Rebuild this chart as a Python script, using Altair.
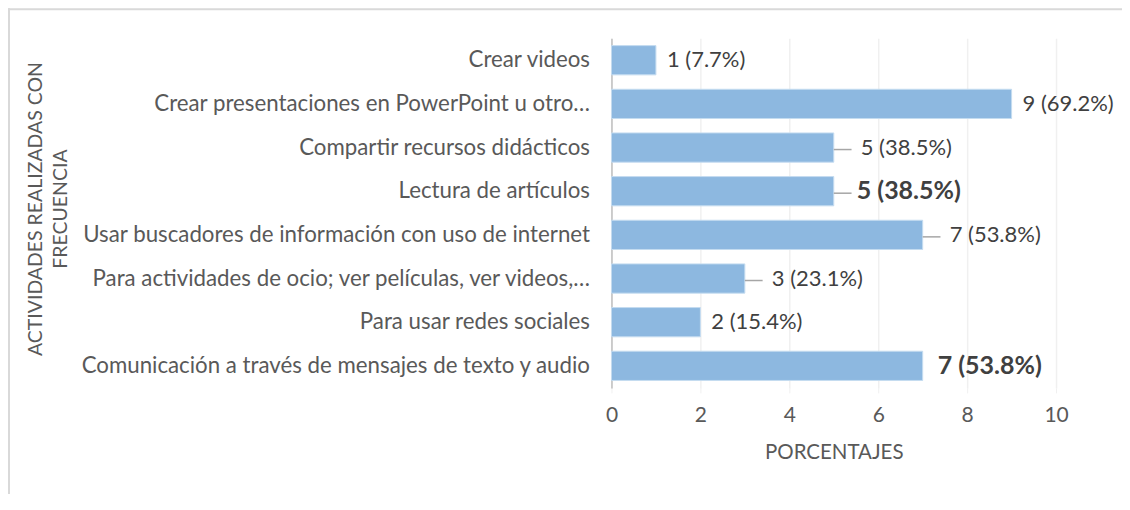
import altair as alt
import pandas as pd

categories = [
    "Crear videos",
    "Crear presentaciones en PowerPoint u otro…",
    "Compartir recursos didácticos",
    "Lectura de artículos",
    "Usar buscadores de información con uso de internet",
    "Para actividades de ocio; ver películas, ver videos,…",
    "Para usar redes sociales",
    "Comunicación a través de mensajes de texto y audio",
]
counts = [1, 9, 5, 5, 7, 3, 2, 7]
percents = ["7.7%", "69.2%", "38.5%", "38.5%", "53.8%", "23.1%", "15.4%", "53.8%"]
y_title = ["ACTIVIDADES REALIZADAS CON", "FRECUENCIA"]
x_title = "PORCENTAJES"

bold_cats = [categories[3], categories[7]]
leader_cats = [categories[2], categories[3], categories[4], categories[5]]

df = pd.DataFrame({"cat": categories, "n": counts, "pct": percents})
df["label"] = df["n"].astype(str) + " (" + df["pct"] + ")"

FONT = "Lato"
TXT = "#404040"
AX = "#595959"

base = alt.Chart(df)
y_enc = alt.Y(
    "cat:N",
    sort=categories,
    scale=alt.Scale(paddingInner=0.33, paddingOuter=0.17),
    axis=alt.Axis(
        title=None,
        labelFont=FONT, labelFontSize=22.3, labelColor=AX, labelLimit=700,
        labelPadding=22, ticks=False, domainColor="#bfbfbf", domainWidth=1.5,
    ),
)
x_scale = alt.Scale(domain=[0, 10])
x_axis = alt.Axis(
    title=x_title, values=[0, 2, 4, 6, 8, 10],
    titleFont=FONT, titleFontSize=20.5, titleFontWeight="normal", titleColor=AX,
    titlePadding=17,
    labelFont=FONT, labelFontSize=21, labelColor=AX, labelPadding=12,
    labelFlush=False,
    grid=True, gridColor="#f0f0f0", gridWidth=1.5,
    domain=False, ticks=True, tickColor="#f0f0f0", tickSize=5,
)

bars = base.mark_bar(color="#8db8e0", stroke="#c5dcf0", strokeWidth=1).encode(
    x=alt.X("n:Q", scale=x_scale, axis=x_axis), y=y_enc
)

ysort = alt.Y("cat:N", sort=categories)

plain_lab = base.transform_filter(
    ~alt.FieldOneOfPredicate(field="cat", oneOf=leader_cats + bold_cats)
).mark_text(align="left", dx=11, font=FONT, fontSize=22, color=TXT).encode(
    x="n:Q", y=ysort, text="label:N"
)
lead_lab = base.transform_filter(
    alt.FieldOneOfPredicate(field="cat", oneOf=[categories[2], categories[4], categories[5]])
).mark_text(align="left", dx=27, font=FONT, fontSize=22, color=TXT).encode(
    x="n:Q", y=ysort, text="label:N"
)
bold_lead = base.transform_filter(
    alt.FieldEqualPredicate(field="cat", equal=categories[3])
).mark_text(align="left", dx=23, font=FONT, fontSize=25, fontWeight="bold", color=TXT).encode(
    x="n:Q", y=ysort, text="label:N"
)
bold_plain = base.transform_filter(
    alt.FieldEqualPredicate(field="cat", equal=categories[7])
).mark_text(align="left", dx=15, font=FONT, fontSize=25, fontWeight="bold", color=TXT).encode(
    x="n:Q", y=ysort, text="label:N"
)
leaders = base.transform_filter(
    alt.FieldOneOfPredicate(field="cat", oneOf=leader_cats)
).transform_calculate(end="datum.n + 0.4").mark_rule(
    color="#a6a6a6", strokeWidth=1.5, yOffset=2
).encode(
    x="n:Q", x2="end:Q", y=ysort
)

one = pd.DataFrame({"k": [0]})
ytitle1 = alt.Chart(one).mark_text(
    angle=270, font=FONT, fontSize=19.5, color=AX, align="center", baseline="middle"
).encode(x=alt.value(-576), y=alt.value(171), text=alt.value(y_title[0]))
ytitle2 = alt.Chart(one).mark_text(
    angle=270, font=FONT, fontSize=19.5, color=AX, align="center", baseline="middle"
).encode(x=alt.value(-551), y=alt.value(171), text=alt.value(y_title[1]))

frame_top = alt.Chart(one).mark_rule(color="#d9d9d9", strokeWidth=2).encode(
    x=alt.value(-604), x2=alt.value(520), y=alt.value(-29)
)
frame_left = alt.Chart(one).mark_rule(color="#d9d9d9", strokeWidth=2).encode(
    x=alt.value(-603), y=alt.value(-30), y2=alt.value(470)
)

chart = alt.layer(
    bars, leaders, plain_lab, lead_lab, bold_lead, bold_plain,
    ytitle1, ytitle2, frame_top, frame_left
).properties(
    width=445, height=350,
    autosize=alt.AutoSizeParams(type="none"),
    padding={"left": 604, "top": 30, "right": 66, "bottom": 106},
    background="white",
).configure_view(stroke=None)

chart.save("out.html", embed_options={"renderer": "svg", "actions": False})
